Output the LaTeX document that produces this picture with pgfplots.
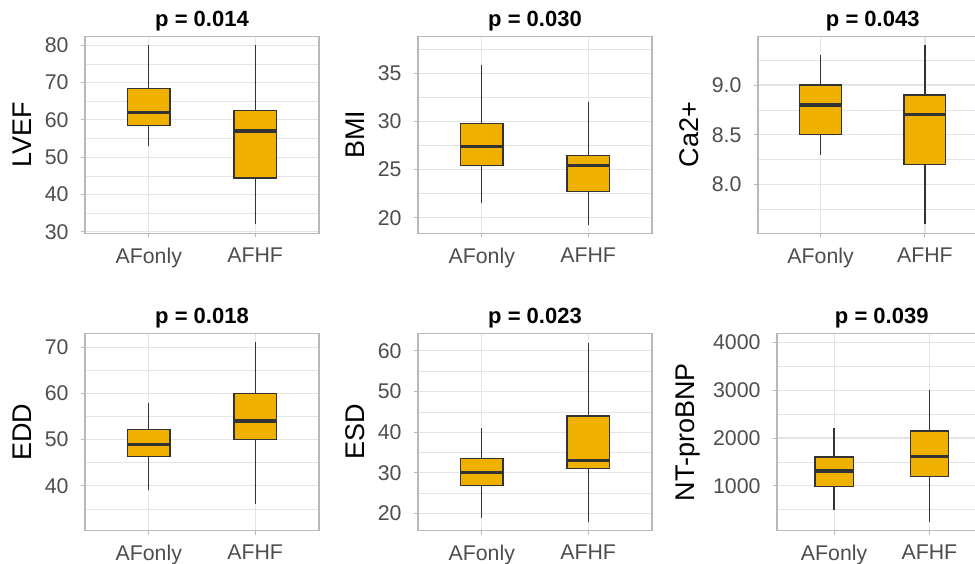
\documentclass[border=0pt]{standalone}
\usepackage{pgfplots}
\pgfplotsset{compat=1.18}
\usepgfplotslibrary{statistics}
\usepackage{fontspec}
\setmainfont{Liberation Sans}

\definecolor{boxfill}{HTML}{F0B000}
\definecolor{boxline}{HTML}{333333}
\definecolor{gridcol}{HTML}{E4E4E4}
\definecolor{framecol}{HTML}{B8B8B8}
\definecolor{tickcol}{HTML}{4D4D4D}

\pgfplotsset{
  panel/.style={
    scale only axis,
    width=234pt, height=197pt,
    xmin=0.4, xmax=2.6,
    xtick={1,2}, xticklabels={AFonly,AFHF},
    tick pos=left,
    tick align=outside,
    major tick length=4pt,
    minor tick length=0pt,
    every tick/.style={framecol, line width=1pt},
    axis line style={framecol, line width=1.3pt},
    grid=both,
    major grid style={gridcol, line width=1.2pt},
    minor grid style={gridcol, line width=0.6pt},
    scaled ticks=false,
    /pgf/number format/assume math mode=true,
    /pgf/number format/1000 sep={},
    tick label style={font=\fontsize{21.3}{25}\selectfont, text=tickcol},
    xticklabel style={yshift=-7pt},
    yticklabel style={xshift=-9pt},
    ylabel style={font=\fontsize{27}{31}\selectfont, text=black},
    ylabel shift=6pt,
    title style={font=\fontsize{22}{26}\selectfont\bfseries, text=black, yshift=-4pt},
    boxplot/draw direction=y,
    boxplot/box extend=0.4,
    boxplot/whisker extend=0,
  },
  gbox/.style={draw=boxline, fill=boxfill, line width=1.3pt, solid, mark=none,
    boxplot/every median/.style={line width=3.2pt}},
}

\begin{document}
\begin{tikzpicture}
\useasboundingbox (0,0) rectangle (975pt,564pt);
\clip (0,0) rectangle (975pt,564pt);

% ---------------- LVEF ----------------
\begin{axis}[panel, at={(85pt,330.7pt)}, anchor=south west,
  ymin=29.6, ymax=82.4, ytick={30,40,50,60,70,80},
  minor ytick={35,45,55,65,75},
  ylabel={LVEF}, title={p = 0.014}]
\addplot[gbox, boxplot prepared={draw position=1, lower whisker=53,
  lower quartile=58.4, median=62, upper quartile=68.4, upper whisker=80}] coordinates {};
\addplot[gbox, boxplot prepared={draw position=2, lower whisker=32,
  lower quartile=44.4, median=57, upper quartile=62.5, upper whisker=80}] coordinates {};
\end{axis}

% ---------------- BMI ----------------
\begin{axis}[panel, at={(418pt,330.7pt)}, anchor=south west,
  ymin=18.38, ymax=38.87, ytick={20,25,30,35},
  minor ytick={22.5,27.5,32.5,37.5},
  ylabel={BMI}, title={p = 0.030}]
\addplot[gbox, boxplot prepared={draw position=1, lower whisker=21.5,
  lower quartile=25.4, median=27.4, upper quartile=29.8, upper whisker=35.9}] coordinates {};
\addplot[gbox, boxplot prepared={draw position=2, lower whisker=19.2,
  lower quartile=22.7, median=25.4, upper quartile=26.5, upper whisker=32.0}] coordinates {};
\end{axis}

% ---------------- Ca2+ ----------------
\begin{axis}[panel, width=229.5pt, at={(758pt,330.7pt)}, anchor=south west,
  ymin=7.51, ymax=9.49, ytick={8,8.5,9},
  minor ytick={7.75,8.25,8.75,9.25},
  yticklabel style={/pgf/number format/fixed, /pgf/number format/fixed zerofill,
    /pgf/number format/precision=1},
  ylabel={Ca2+}, title={p = 0.043}]
\addplot[gbox, boxplot prepared={draw position=1, lower whisker=8.3,
  lower quartile=8.5, median=8.8, upper quartile=9.0, upper whisker=9.3}] coordinates {};
\addplot[gbox, boxplot prepared={draw position=2, lower whisker=7.6,
  lower quartile=8.2, median=8.7, upper quartile=8.9, upper whisker=9.4}] coordinates {};
\end{axis}

% ---------------- EDD ----------------
\begin{axis}[panel, at={(85pt,33.3pt)}, anchor=south west,
  ymin=30.3, ymax=72.9, ytick={40,50,60,70},
  minor ytick={35,45,55,65},
  ylabel={EDD}, title={p = 0.018}]
\addplot[gbox, boxplot prepared={draw position=1, lower whisker=39,
  lower quartile=46.3, median=49, upper quartile=52.2, upper whisker=58}] coordinates {};
\addplot[gbox, boxplot prepared={draw position=2, lower whisker=36,
  lower quartile=50, median=54, upper quartile=60, upper whisker=71}] coordinates {};
\end{axis}

% ---------------- ESD ----------------
\begin{axis}[panel, at={(418pt,33.3pt)}, anchor=south west,
  ymin=15.8, ymax=64.2, ytick={20,30,40,50,60},
  minor ytick={25,35,45,55},
  ylabel={ESD}, title={p = 0.023}]
\addplot[gbox, boxplot prepared={draw position=1, lower whisker=19,
  lower quartile=26.9, median=30, upper quartile=33.6, upper whisker=41}] coordinates {};
\addplot[gbox, boxplot prepared={draw position=2, lower whisker=18,
  lower quartile=31, median=33, upper quartile=44, upper whisker=62}] coordinates {};
\end{axis}

% ---------------- NT-proBNP ----------------
\begin{axis}[panel, width=209.5pt, at={(777pt,33.3pt)}, anchor=south west,
  ymin=58, ymax=4188, ytick={1000,2000,3000,4000},
  minor ytick={500,1500,2500,3500},
  ylabel={NT-proBNP}, title={p = 0.039}]
\addplot[gbox, boxplot prepared={draw position=1, lower whisker=490,
  lower quartile=980, median=1310, upper quartile=1600, upper whisker=2210}] coordinates {};
\addplot[gbox, boxplot prepared={draw position=2, lower whisker=230,
  lower quartile=1200, median=1610, upper quartile=2150, upper whisker=3000}] coordinates {};
\end{axis}
\end{tikzpicture}
\end{document}
